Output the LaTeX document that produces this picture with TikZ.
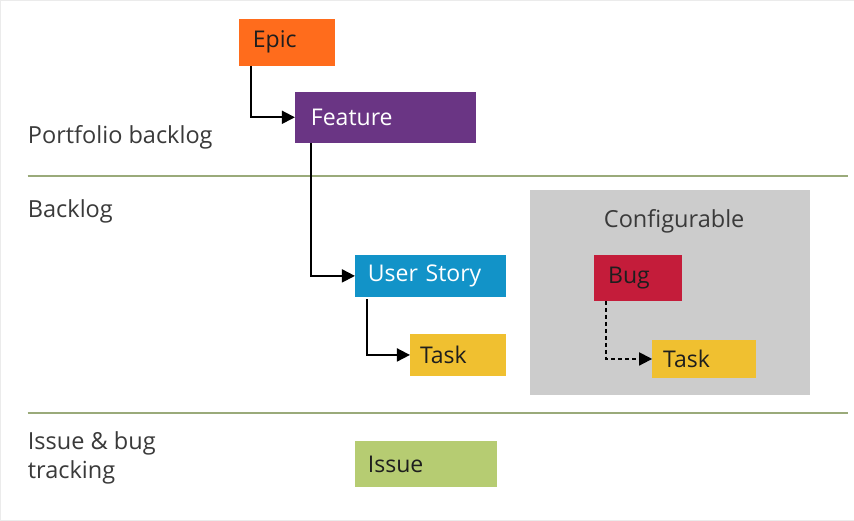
\documentclass[tikz,border=0pt]{standalone}
\usepackage{fontspec}
\setmainfont{Open Sans}
\usetikzlibrary{arrows.meta}

\definecolor{epicorange}{HTML}{FF6C1C}
\definecolor{featurepurple}{HTML}{6A3584}
\definecolor{storyblue}{HTML}{1293C8}
\definecolor{taskyellow}{HTML}{F0C030}
\definecolor{bugred}{HTML}{C41C3A}
\definecolor{issuegreen}{HTML}{B6CC72}
\definecolor{linegreen}{HTML}{9AAA7A}
\definecolor{labelgray}{HTML}{3A3A3A}
\definecolor{itemtext}{HTML}{1E1E1E}

\tikzset{
  item/.style={anchor=north west, inner ysep=0pt, outer sep=0pt, align=left,
    font=\fontsize{23}{27}\selectfont, text=itemtext},
  lane/.style={anchor=west, inner sep=0pt, align=left,
    font=\fontsize{23.5}{29}\selectfont, text=labelgray},
  divider/.style={linegreen, line width=2pt},
  link/.style={line width=1.8pt, ->}
}

\begin{document}
\begin{tikzpicture}[x=1pt,y=-1pt,>={Triangle[length=13pt,width=13pt]}]
        % frame of the picture
        \draw[black!8, fill=white] (0.5,0.5) rectangle (853.5,520.5);

        % lane dividers
        \draw[divider] (28,176) -- (848,176);
        \draw[divider] (28,413) -- (848,413);

        % lane titles
        \node[lane] (portfolio) at (28,138) {Portfolio backlog};
        \node[lane] (backlog) at (28,212) {Backlog};
        \node[lane] (tracking) at (28,458) {Issue \& bug\\tracking};

        % configurable area
        \node[fill=black!20, anchor=north west, minimum width=280, minimum height=205,
              inner sep=0pt] (configarea) at (530,190) {};
        \node[lane, anchor=center] (config) at (674,221) {Configurable};

        % work items
        \node[item, fill=epicorange, inner xsep=14, text width=68, minimum height=47]
            (epic) at (239,19) {Epic};
        \node[item, fill=featurepurple, text=white, inner xsep=16, text width=149, minimum height=51]
            (feature) at (295,92) {Feature};
        \node[item, fill=storyblue, text=white, inner xsep=13, text width=125, minimum height=42]
            (story) at (355,255) {User Story};
        \node[item, fill=taskyellow, inner xsep=10, text width=76, minimum height=42]
            (task) at (410,334) {Task};
        \node[item, fill=bugred, inner xsep=14, text width=60, minimum height=46]
            (bug) at (594,255) {Bug};
        \node[item, fill=taskyellow, inner xsep=11, text width=82, minimum height=38]
            (bugtask) at (652,340) {Task};
        \node[item, fill=issuegreen, inner xsep=13, text width=116, minimum height=46]
            (issue) at (355,441) {Issue};

        % parent to child links
        \draw[link] ([xshift=12]epic.south west) |- (feature.west);
        \draw[link] ([xshift=16]feature.south west) |- (story.west);
        \draw[link] ([xshift=12,yshift=-2]story.south west) |- (task.west);
        \draw[link, dash pattern=on 4pt off 3pt] ([xshift=12]bug.south west) |- (bugtask.west);
\end{tikzpicture}
\end{document}
